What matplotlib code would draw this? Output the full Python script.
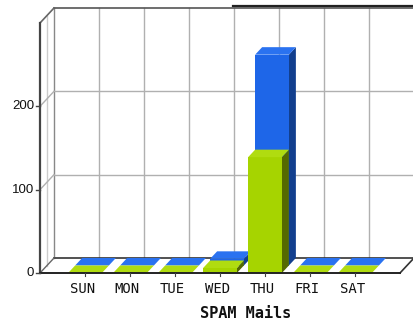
import numpy as np
import matplotlib
matplotlib.use("Agg")
import matplotlib.pyplot as plt
from matplotlib.patches import Polygon
from matplotlib.lines import Line2D

days = ["SUN", "MON", "TUE", "WED", "THU", "FRI", "SAT"]
spam_front = [0, 0, 0, 6, 139, 0, 0]     # green row
spam_back = [0, 0, 0, 8, 253, 0, 0]      # blue row
yticks = [0, 100, 200]

W, H = 413, 327
fig = plt.figure(figsize=(W / 100, H / 100), dpi=100)
fig.patch.set_facecolor("white")
ax = fig.add_axes([40 / W, (H - 273) / H, 360 / W, 250 / H])
ax.set_xlim(0, 8)
ax.set_ylim(0, 300)
ax.axis("off")

# depth of the box in data units (14 px across, 15 px up)
DX = 14 / 45
DY = 15 / (250 / 300)

grid = "#b0b0b0"
edge = "#333333"

# back wall + grid
ax.add_patch(Polygon([(DX, DY), (8 + DX, DY), (8 + DX, 300 + DY), (DX, 300 + DY)],
                     closed=True, fc="white", ec="none", clip_on=False, zorder=0))
for i in range(1, 9):
    ax.plot([i + DX, i + DX], [DY, 300 + DY], color=grid, lw=1, clip_on=False, zorder=1)
ax.plot([DX, DX], [DY, 300 + DY], color="#888888", lw=1, clip_on=False, zorder=1)
ax.plot([DX / 2, DX / 2], [DY / 2, 300 + DY / 2], color="#cccccc", lw=1, clip_on=False, zorder=1)
for v in [100, 200]:
    ax.plot([DX, 8 + DX], [v + DY, v + DY], color=grid, lw=1, clip_on=False, zorder=1)
    ax.plot([0, DX], [v, v + DY], color=grid, lw=1, clip_on=False, zorder=1)
ax.plot([DX, 8 + DX], [300 + DY, 300 + DY], color="#555555", lw=1.2, clip_on=False, zorder=1)
ax.plot([0, DX], [300, 300 + DY], color="#666666", lw=1.2, clip_on=False, zorder=1)

# floor outline
ax.plot([DX, 8 + DX], [DY, DY], color=edge, lw=1.2, clip_on=False, zorder=1)
ax.plot([0, DX], [0, DY], color="#666666", lw=1, clip_on=False, zorder=1)
ax.plot([8, 8 + DX], [0, DY], color=edge, lw=1.2, clip_on=False, zorder=1)

pos = np.arange(1, len(days) + 1)
bw = 0.75


def bar3d(x, v, d0, d1, front, top, side):
    xl, xr = x - bw / 2, x + bw / 2
    ox0, oy0 = d0 * DX, d0 * DY
    ox1, oy1 = d1 * DX, d1 * DY
    if v > 0:
        ax.add_patch(Polygon([(xr + ox0, oy0), (xr + ox1, oy1), (xr + ox1, v + oy1), (xr + ox0, v + oy0)],
                             closed=True, fc=side, ec="none", clip_on=False, zorder=3))
        ax.add_patch(Polygon([(xl + ox0, oy0), (xr + ox0, oy0), (xr + ox0, v + oy0), (xl + ox0, v + oy0)],
                             closed=True, fc=front, ec="none", clip_on=False, zorder=3))
    ax.add_patch(Polygon([(xl + ox0, v + oy0), (xr + ox0, v + oy0), (xr + ox1, v + oy1), (xl + ox1, v + oy1)],
                         closed=True, fc=top, ec="none", clip_on=False, zorder=3))


for x, v in zip(pos, spam_back):
    bar3d(x, v, 0.5, 1.0, "#1e66e8", "#2a72f0", "#123f8e")
for x, v in zip(pos, spam_front):
    bar3d(x, v, 0.0, 0.5, "#a6d400", "#b0dc10", "#556a00")

# front axes
ax.plot([0, 0], [0, 300], color="#444444", lw=1.6, clip_on=False, zorder=4)
ax.plot([0, 8], [0, 0], color="#222222", lw=1.4, clip_on=False, zorder=4)
for v in yticks:
    ax.plot([-0.1, 0], [v, v], color="#444444", lw=1, clip_on=False, zorder=4)
    ax.text(-0.13, v, str(v), ha="right", va="center", fontsize=9.5,
            family="Liberation Sans", color="#111111")
for x, d in zip(pos, days):
    ax.plot([x, x], [0, -4], color="#444444", lw=0.8, clip_on=False, zorder=4)
    ax.text(x - 0.06, -19, d, ha="center", va="center", fontsize=10,
            family="DejaVu Sans Mono", color="#111111")

fig.text(246 / W, 1 - 313 / H, "SPAM Mails", ha="center", va="center",
         fontsize=11, family="DejaVu Sans Mono", weight="bold", color="#111111")

# legend frame edge along the top
fig.add_artist(Line2D([233 / W, 1], [1 - 6 / H, 1 - 6 / H], color="#222222", lw=1.6))

fig.savefig("out.png", dpi=100, facecolor="white")
